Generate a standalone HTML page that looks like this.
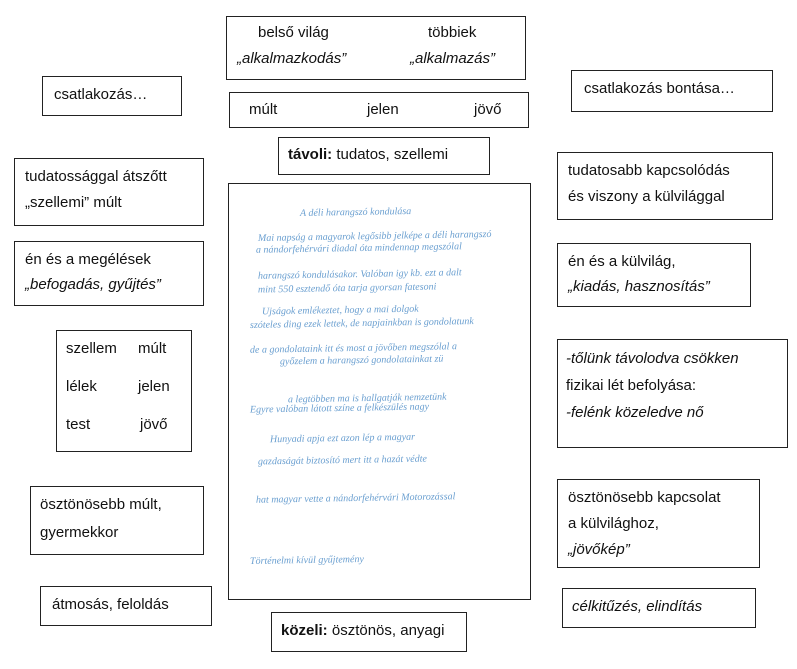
<!DOCTYPE html>
<html><head><meta charset="utf-8"><style>
body{margin:0;width:797px;height:669px;background:#fff;position:relative;font-family:"Liberation Sans",sans-serif;font-size:15px;color:#111;overflow:hidden}
.b{position:absolute;border:1px solid #222;background:#fff;box-sizing:border-box}
.t{position:absolute;white-space:nowrap}
i{font-style:italic}
.h{position:absolute;color:#6a9fd0;font-family:"Liberation Serif",serif;font-style:italic;font-size:10px;white-space:nowrap;transform:rotate(-1deg)}
</style></head><body>
<div class="b" style="left:226px;top:16px;width:300px;height:64px"></div>
<div class="t" style="left:258px;top:24px">belső világ</div>
<div class="t" style="left:428px;top:24px">többiek</div>
<div class="t" style="left:237px;top:50px"><i>„alkalmazkodás”</i></div>
<div class="t" style="left:410px;top:50px"><i>„alkalmazás”</i></div>
<div class="b" style="left:229px;top:92px;width:300px;height:36px"></div>
<div class="t" style="left:249px;top:101px">múlt</div>
<div class="t" style="left:367px;top:101px">jelen</div>
<div class="t" style="left:474px;top:101px">jövő</div>
<div class="b" style="left:278px;top:137px;width:212px;height:38px"></div>
<div class="t" style="left:288px;top:146px"><b>távoli:</b> tudatos, szellemi</div>
<div class="b" style="left:42px;top:76px;width:140px;height:40px"></div>
<div class="t" style="left:54px;top:86px">csatlakozás…</div>
<div class="b" style="left:571px;top:70px;width:202px;height:42px"></div>
<div class="t" style="left:584px;top:80px">csatlakozás bontása…</div>
<div class="b" style="left:14px;top:158px;width:190px;height:68px"></div>
<div class="t" style="left:25px;top:168px">tudatossággal átszőtt</div>
<div class="t" style="left:25px;top:194px">„szellemi” múlt</div>
<div class="b" style="left:557px;top:152px;width:216px;height:68px"></div>
<div class="t" style="left:568px;top:162px">tudatosabb kapcsolódás</div>
<div class="t" style="left:568px;top:188px">és viszony a külvilággal</div>
<div class="b" style="left:14px;top:241px;width:190px;height:65px"></div>
<div class="t" style="left:25px;top:251px">én és a megélések</div>
<div class="t" style="left:25px;top:276px"><i>„befogadás, gyűjtés”</i></div>
<div class="b" style="left:557px;top:243px;width:194px;height:64px"></div>
<div class="t" style="left:568px;top:253px">én és a külvilág,</div>
<div class="t" style="left:568px;top:278px"><i>„kiadás, hasznosítás”</i></div>
<div class="b" style="left:56px;top:330px;width:136px;height:122px"></div>
<div class="t" style="left:66px;top:340px">szellem</div><div class="t" style="left:138px;top:340px">múlt</div>
<div class="t" style="left:66px;top:378px">lélek</div><div class="t" style="left:138px;top:378px">jelen</div>
<div class="t" style="left:66px;top:416px">test</div><div class="t" style="left:140px;top:416px">jövő</div>
<div class="b" style="left:557px;top:339px;width:231px;height:109px"></div>
<div class="t" style="left:566px;top:350px"><i>-tőlünk távolodva csökken</i></div>
<div class="t" style="left:566px;top:377px">fizikai lét befolyása:</div>
<div class="t" style="left:566px;top:404px"><i>-felénk közeledve nő</i></div>
<div class="b" style="left:30px;top:486px;width:174px;height:69px"></div>
<div class="t" style="left:40px;top:496px">ösztönösebb múlt,</div>
<div class="t" style="left:40px;top:524px">gyermekkor</div>
<div class="b" style="left:557px;top:479px;width:203px;height:89px"></div>
<div class="t" style="left:568px;top:489px">ösztönösebb kapcsolat</div>
<div class="t" style="left:568px;top:515px">a külvilághoz,</div>
<div class="t" style="left:568px;top:541px"><i>„jövőkép”</i></div>
<div class="b" style="left:40px;top:586px;width:172px;height:40px"></div>
<div class="t" style="left:52px;top:596px">átmosás, feloldás</div>
<div class="b" style="left:562px;top:588px;width:194px;height:40px"></div>
<div class="t" style="left:572px;top:598px"><i>célkitűzés, elindítás</i></div>
<div class="b" style="left:271px;top:612px;width:196px;height:40px"></div>
<div class="t" style="left:281px;top:622px"><b>közeli:</b> ösztönös, anyagi</div>
<div class="b" style="left:228px;top:183px;width:303px;height:417px"></div>
<div class="h" style="left:300px;top:207px">A déli harangszó kondulása</div>
<div class="h" style="left:258px;top:231px">Mai napság a magyarok legősibb jelképe a déli harangszó</div>
<div class="h" style="left:256px;top:243px">a nándorfehérvári diadal óta mindennap megszólal</div>
<div class="h" style="left:258px;top:269px">harangszó kondulásakor. Valóban igy kb. ezt a dalt</div>
<div class="h" style="left:258px;top:283px">mint 550 esztendő óta tarja gyorsan fatesoni</div>
<div class="h" style="left:262px;top:305px">Ujságok emlékeztet, hogy a mai dolgok</div>
<div class="h" style="left:250px;top:318px">szóteles ding ezek lettek, de napjainkban is gondolatunk</div>
<div class="h" style="left:250px;top:343px">de a gondolataink itt és most a jövőben megszólal a</div>
<div class="h" style="left:280px;top:355px">győzelem a harangszó gondolatainkat zü</div>
<div class="h" style="left:288px;top:393px">a legtöbben ma is hallgatják nemzetünk</div>
<div class="h" style="left:250px;top:403px">Egyre valóban látott színe a felkészülés nagy</div>
<div class="h" style="left:270px;top:433px">Hunyadi apja ezt azon lép a magyar</div>
<div class="h" style="left:258px;top:455px">gazdaságát biztosító mert itt a hazát védte</div>
<div class="h" style="left:256px;top:493px">hat magyar vette a nándorfehérvári Motorozással</div>
<div class="h" style="left:250px;top:555px">Történelmi kívül gyűjtemény</div>
</body></html>
